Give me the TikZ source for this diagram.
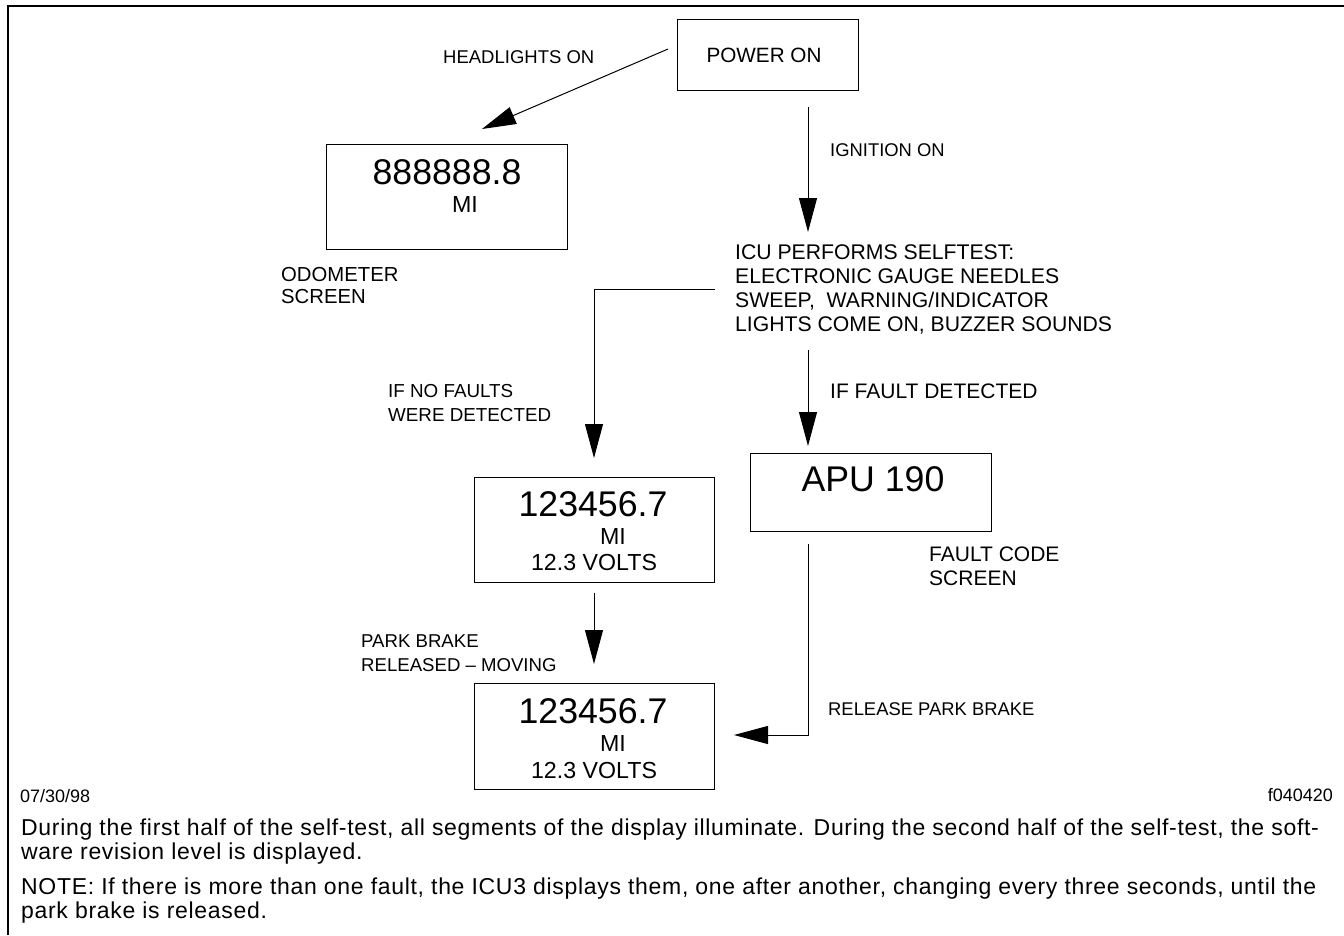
\documentclass[tikz,border=0pt]{standalone}
\usepackage{fontspec}
\setmainfont{Liberation Sans}
\newfontfamily\parafont{Liberation Sans}[LetterSpace=3]
\usetikzlibrary{arrows.meta}
\tikzset{
  box/.style={draw, line width=1pt, inner sep=0pt, anchor=north west},
  lbl/.style={inner sep=0pt, anchor=west, font=\fontsize{18.6}{22}\selectfont},
  lblb/.style={inner sep=0pt, anchor=west, font=\fontsize{21}{24}\selectfont},
  big/.style={inner sep=0pt, font=\fontsize{35.7}{40}\selectfont},
  mid/.style={inner sep=0pt, font=\fontsize{23.2}{27}\selectfont},
  conn/.style={line width=1pt, -{Triangle[length=34pt,width=18pt]}},
  para/.style={inner sep=0pt, anchor=base west, font=\parafont\fontsize{23}{24}\selectfont},
  small/.style={inner sep=0pt, font=\fontsize{18}{20}\selectfont},
}
\begin{document}
\begin{tikzpicture}[x=1pt,y=-1pt]
\useasboundingbox (0,0) rectangle (1344,935);
% frame
\draw[line width=1.8pt] (8,935) -- (8,6) -- (1344,6);

% boxes
\node[box, minimum width=181pt, minimum height=71pt] (power) at (677,19) {};
\node[inner sep=0pt, font=\fontsize{20.7}{25}\selectfont] (powert) at (764,55) {POWER ON};
\node[box, minimum width=241pt, minimum height=105pt] (odo) at (326,144) {};
\node[box, minimum width=240pt, minimum height=105pt] (box1) at (474,477) {};
\node[box, minimum width=241pt, minimum height=78pt] (apu) at (750,453) {};
\node[box, minimum width=240pt, minimum height=106pt] (box2) at (474,683) {};

% box texts
\node[big] (odon) at (447,172) {888888.8};
\node[mid] (odomi) at (465,205) {MI};
\node[big] (b1n) at (593,504) {123456.7};
\node[mid] (b1mi) at (613,537) {MI};
\node[mid] (b1v) at (594,563) {12.3 VOLTS};
\node[big] (apun) at (873,479) {APU 190};
\node[big] (b2n) at (593,711) {123456.7};
\node[mid] (b2mi) at (613,744) {MI};
\node[mid] (b2v) at (594,771) {12.3 VOLTS};

% labels
\node[lbl, font=\fontsize{18.5}{22}\selectfont] (headl) at (443,57) {HEADLIGHTS ON};
\node[lbl, align=left, font=\fontsize{20.3}{22}\selectfont] (odol) at (281,286) {ODOMETER\\SCREEN};
\node[lbl, font=\fontsize{18.4}{22}\selectfont] (ignl) at (830,150) {IGNITION ON};
\node[lblb, align=left, font=\fontsize{21.2}{24}\selectfont] (icu) at (735,289)
  {ICU PERFORMS SELFTEST:\\ELECTRONIC GAUGE NEEDLES\\SWEEP,\ \ WARNING/INDICATOR\\LIGHTS COME ON, BUZZER SOUNDS};
\node[lbl, align=left, font=\fontsize{18.8}{23.5}\selectfont] (nof) at (388,403) {IF NO FAULTS\\WERE DETECTED};
\node[lblb] (faultl) at (830,391) {IF FAULT DETECTED};
\node[lblb, align=left] (fcs) at (929,566) {FAULT CODE\\SCREEN};
\node[lbl, align=left, font=\fontsize{18.6}{23.5}\selectfont] (pbl) at (361,653) {PARK BRAKE\\RELEASED -- MOVING};
\node[lbl, font=\fontsize{18.4}{22}\selectfont] (rpb) at (828,709) {RELEASE PARK BRAKE};

\node[small, anchor=west] (date) at (20,796) {07/30/98};
\node[small, anchor=east] (fig) at (1333,795) {f040420};

\node[para] (p1) at (21,835) {During the first half of the self-test, all segments of the display illuminate. During the second half of the self-test, the soft-};
\node[para] (p2) at (21,859) {ware revision level is displayed.};
\node[para] (p3) at (21,894) {NOTE: If there is more than one fault, the ICU3 displays them, one after another, changing every three seconds, until the};
\node[para] (p4) at (21,918) {park brake is released.};

% connector coordinates
\coordinate (hs) at (668,49);
\coordinate (he) at (482,129);
\coordinate (is) at (808,107);
\coordinate (ie) at (808,232);
\coordinate (ls) at (715,289);
\coordinate (lc) at (594,289);
\coordinate (le) at (594,458);
\coordinate (fs) at (808,350);
\coordinate (fe) at (808,446);
\coordinate (ps) at (594,593);
\coordinate (pe) at (594,664);
\coordinate (rs) at (808,544);
\coordinate (rc) at (808,735);
\coordinate (re) at (734,735);

\draw[conn] (hs) -- (he);
\draw[conn] (is) -- (ie);
\draw[conn] (ls) -- (lc) -- (le);
\draw[conn] (fs) -- (fe);
\draw[conn] (ps) -- (pe);
\draw[conn] (rs) -- (rc) -- (re);
\end{tikzpicture}
\end{document}
